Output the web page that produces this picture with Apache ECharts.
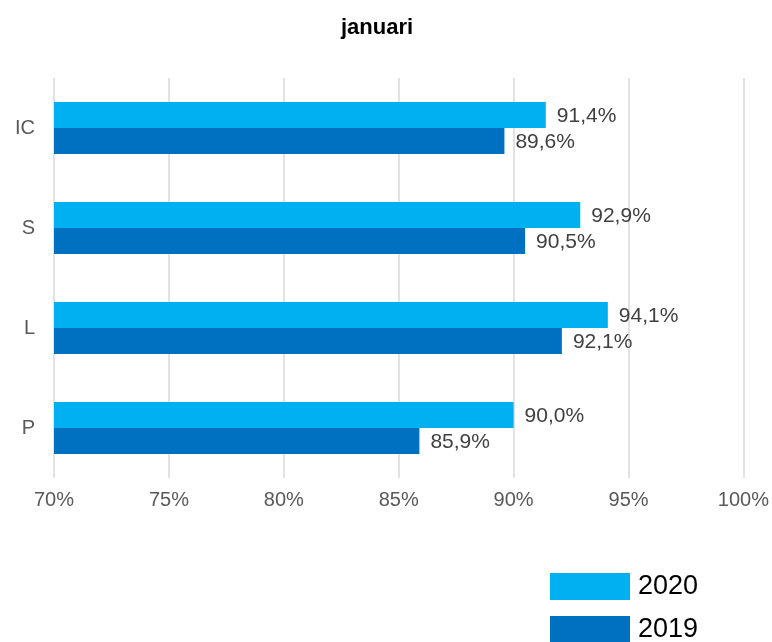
<!DOCTYPE html>
<html>
<head>
<meta charset="utf-8">
<script src="https://cdn.jsdelivr.net/npm/echarts@6/dist/echarts.min.js"></script>
<style>html,body{margin:0;padding:0;background:#fff}#c{width:772px;height:642px}</style>
</head>
<body>
<div id="c"></div>
<script>
var categories = ['IC', 'S', 'L', 'P'];
var values2020 = [91.4, 92.9, 94.1, 90.0];
var values2019 = [89.6, 90.5, 92.1, 85.9];
var xTicks = [70, 75, 80, 85, 90, 95, 100];

var FONT = 'Liberation Sans, Arial, sans-serif';
var chart = echarts.init(document.getElementById('c'), null, {renderer: 'canvas'});
function pct(v) { return v.toFixed(1).replace('.', ',') + '%'; }
var labelStyle = {
  show: true, position: 'right', distance: 11, offset: [0, 1],
  fontFamily: FONT, fontSize: 21, color: '#404040',
  formatter: function (p) { return pct(p.value); }
};
var legendText = {fontFamily: FONT, fontSize: 27, color: '#000', padding: [0, 0, 0, 3]};
chart.setOption({
  animation: false,
  title: {
    text: 'januari', left: 336, top: 12,
    textStyle: {fontFamily: FONT, fontSize: 22, fontWeight: 'bold', color: '#000'}
  },
  legend: [
    {left: 550, top: 573, itemWidth: 80, itemHeight: 27, icon: 'rect', padding: 0,
      textStyle: legendText, data: ['2020']},
    {left: 550, top: 616, itemWidth: 80, itemHeight: 27, icon: 'rect', padding: 0,
      textStyle: legendText, data: ['2019']}
  ],
  grid: {left: 54, right: 28, top: 78, bottom: 164, containLabel: false},
  xAxis: {
    type: 'value', min: xTicks[0], max: xTicks[xTicks.length - 1], interval: 5,
    axisLine: {show: false}, axisTick: {show: false},
    splitLine: {show: true, lineStyle: {color: '#d9d9d9', width: 1.5}},
    axisLabel: {margin: 12, fontFamily: FONT, fontSize: 20, color: '#595959',
      formatter: function (v) { return v + '%'; }}
  },
  yAxis: {
    type: 'category', data: categories, inverse: true,
    axisLine: {show: false}, axisTick: {show: false},
    axisLabel: {margin: 19, fontFamily: FONT, fontSize: 20, color: '#595959'}
  },
  series: [
    {name: '2020', type: 'bar', data: values2020, barWidth: 26, barGap: '0%',
      itemStyle: {color: '#00B0F0'}, label: labelStyle},
    {name: '2019', type: 'bar', data: values2019, barWidth: 26, barGap: '0%',
      itemStyle: {color: '#0070C0'}, label: labelStyle}
  ]
});
</script>
</body>
</html>
